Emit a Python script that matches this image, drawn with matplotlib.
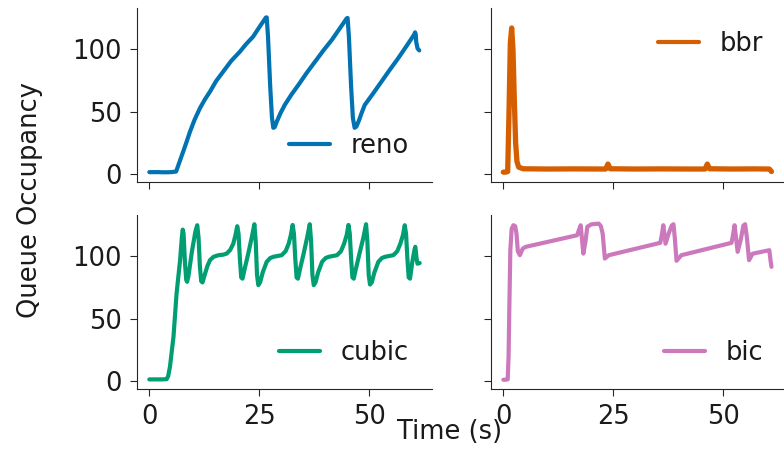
import matplotlib
matplotlib.use("Agg")
import matplotlib.pyplot as plt

# ---------------- data ----------------
reno_t = [0, 1, 2, 3, 4, 5, 6.1, 6.6, 7.2, 7.7, 8.5, 9.25, 10.3, 11.5, 12.6, 13.8, 15.2, 16.8,
          18.6, 20.6, 22.0, 23.6, 25.0, 26.5, 26.7, 27.0, 27.5, 27.9, 28.2, 28.5, 29.0, 29.8,
          30.8, 32.3, 33.9, 35.8, 37.7, 39.6, 41.5, 43.2, 44.9, 45.1, 45.4, 45.9, 46.3, 46.7,
          47.1, 47.7, 48.3, 49.0, 50.9, 52.8, 54.7, 56.6, 58.5, 60.2, 60.45, 60.6, 60.7, 61.0, 61.4]
reno_v = [1.5, 1.5, 1.5, 1.4, 1.4, 1.5, 2.0, 7.0, 13.0, 17.9, 26.0, 33.9, 43.5, 52.6, 59.5, 66.0, 74.5, 82.0,
          90.5, 98.0, 104.0, 110.0, 117.5, 125.3, 125.5, 110.0, 70.0, 45.0, 37.0, 37.5, 42.0, 48.5,
          55.3, 63.5, 71.3, 81.0, 90.0, 99.0, 107.4, 116.0, 124.7, 125.0, 110.0, 70.0, 45.0, 37.0,
          38.0, 43.0, 49.0, 55.3, 64.5, 74.0, 83.5, 92.7, 102.5, 111.5, 113.5, 112.0, 106.0, 100.7, 99.0]

bbr_t = [0, 0.5, 1.0, 1.3, 1.6, 1.9, 2.2, 2.5, 2.8, 3.1, 3.5, 4.5, 10, 16, 23.3, 23.8, 24.3,
         30, 36, 42, 45.9, 46.4, 46.9, 52, 57, 60.5, 61.0]
bbr_v = [1.5, 1.5, 2.0, 50, 105, 117, 100, 60, 25, 10, 5.5, 4.2, 4.0, 4.1, 4.0, 8.0, 4.2,
         4.0, 4.1, 4.0, 4.0, 8.0, 4.2, 4.0, 4.1, 4.0, 2.0]

cubic_t = [0, 1, 2, 3, 3.95, 4.3, 4.7, 5.5, 6.2, 7.0, 7.4, 7.6, 7.8, 8.1, 8.4, 8.6, 8.9, 9.7,
           10.5, 10.9, 11.2, 11.5, 11.8, 12.1, 12.6, 13.2, 13.8, 14.6, 15.7, 16.8, 17.6, 18.4,
           19.1, 19.6, 20.0, 20.3, 20.6, 20.9, 21.2, 21.7, 22.5, 23.3, 23.9, 24.2, 24.5, 24.8,
           25.2, 25.8, 26.7, 27.5, 28.2, 30.1, 31.0, 31.7, 32.2, 32.6,
           32.9, 33.2, 33.5, 33.8, 34.3, 35.1, 35.9, 36.5, 36.8, 37.1, 37.4, 37.8, 38.4, 39.3,
           40.1, 40.8, 42.7, 43.6, 44.3, 44.9, 45.3,
           45.6, 45.9, 46.2, 46.5, 47.0, 47.8, 48.7, 49.3, 49.6, 49.9, 50.2, 50.6, 51.2, 52.1,
           52.9, 53.6, 55.5, 56.4, 57.1, 57.7, 58.1,
           58.4, 58.7, 59.0, 59.3, 59.8, 60.3, 60.5, 60.8, 61.0, 61.5]
cubic_v = [1.3, 1.3, 1.3, 1.3, 1.5, 4.0, 11.5, 35.5, 70.1, 96.8, 115.0, 121.3, 118.0, 95.0, 81.0, 79.5, 84.0, 104.0,
           120.0, 124.8, 115.0, 92.0, 80.0, 79.0, 85.0, 92.0, 96.8, 99.5, 100.8, 101.2, 102.1, 105.0,
           110.0, 117.0, 124.0, 118.0, 98.0, 83.0, 82.0, 90.0, 102.0, 115.0, 125.6, 112.0, 85.0, 76.8,
           79.0, 87.0, 95.5, 98.5, 99.5, 100.8, 104.0, 110.0, 117.0, 125.0,
           118.0, 98.0, 83.0, 82.0, 90.0, 102.0, 115.0, 125.6, 112.0, 85.0, 76.8, 79.0, 87.0, 95.5,
           98.5, 99.5, 100.8, 104.0, 110.0, 117.0, 125.0,
           118.0, 98.0, 83.0, 82.0, 90.0, 102.0, 115.0, 125.6, 112.0, 85.0, 77.3, 79.0, 87.0, 95.5,
           98.5, 99.5, 100.8, 104.0, 110.0, 117.0, 124.8,
           118.0, 98.0, 83.0, 82.0, 95.0, 105.0, 107.5, 98.0, 94.0, 94.5]

bic_t = [0, 0.5, 1.0, 1.2, 1.36, 1.6, 1.9, 2.3, 2.7, 3.0, 3.3, 3.77, 4.4, 5.1, 16.8, 17.2, 17.6, 18.2,
         18.7, 19.1, 20.0, 21.7, 22.2, 22.6, 23.1, 24.0, 35.7, 36.0, 36.4, 36.9, 37.6, 38.3, 38.7,
         39.0, 39.4, 40.5, 51.9, 52.2, 52.6, 53.3, 54.0, 54.6, 55.0, 55.4, 55.9, 56.7, 60.5,
         60.8, 61.0]
bic_v = [1.0, 1.0, 1.3, 20, 56.8, 105, 122, 124.8, 124, 118, 104, 100.8, 106, 107.5, 116.8, 121, 124.8, 102.1,
         112, 123.5, 125.5, 126.1, 124, 118, 98.1, 100.8, 110.7, 116, 124.8, 110, 118, 124.5, 125.6,
         115, 96.3, 100.8, 110.7, 116, 124.8, 103.5, 113, 124.5, 125.6, 115, 96.8, 102.0, 104.8,
         96.0, 91.5]

names = ["reno", "bbr", "cubic", "bic"]
series_t = [reno_t, bbr_t, cubic_t, bic_t]
series_v = [reno_v, bbr_v, cubic_v, bic_v]
colors = ["#0173b2", "#d55e00", "#029e73", "#cc78bc"]
line_widths = [3, 3.8, 3, 3]
legend_locs = ["lower right", "upper right", "lower right", "lower right"]
x_ticks = [0, 25, 50]
y_ticks = [0, 50, 100]

# ---------------- figure ----------------
FS = 18.5
plt.rcParams.update({
    "font.family": ["DejaVu Sans"],
    "font.size": FS,
    "axes.edgecolor": "#262626",
    "xtick.color": "#262626",
    "ytick.color": "#262626",
    "text.color": "#1a1a1a",
    "axes.labelcolor": "#1a1a1a",
})

W, H = 784, 449
fig = plt.figure(figsize=(W / 100, H / 100), dpi=100)

def rect(x0, y0, x1, y1):
    return [x0 / W, 1 - y1 / H, (x1 - x0) / W, (y1 - y0) / H]

positions = [rect(137, 8, 432, 182), rect(491, 8, 786, 182),
             rect(137, 215, 432, 389), rect(491, 215, 786, 389)]

axes = []
for i, pos in enumerate(positions):
    kw = {}
    if i > 0:
        kw = dict(sharex=axes[0], sharey=axes[0])
    ax = fig.add_axes(pos, **kw)
    axes.append(ax)

for i, ax in enumerate(axes):
    ax.plot(series_t[i], series_v[i], color=colors[i], lw=line_widths[i], label=names[i],
            solid_joinstyle="round", solid_capstyle="round")
    ax.spines["top"].set_visible(False)
    ax.spines["right"].set_visible(False)
    ax.set_xticks(x_ticks)
    ax.set_yticks(y_ticks)
    ax.tick_params(labelsize=FS, length=5, pad=6, labelcolor="#1a1a1a")
    if i < 2:
        ax.tick_params(labelbottom=False)
    if i % 2 == 1:
        ax.tick_params(labelleft=False)
    leg = ax.legend(loc=legend_locs[i], frameon=False, fontsize=FS, handlelength=1.6)
    for line in leg.get_lines():
        line.set_linewidth(3)

axes[0].set_xlim(-2.8, 64.3)
axes[0].set_ylim(-6.4, 133)

fig.text(30 / W, 1 - 200 / H, "Queue Occupancy", rotation=90, ha="center", va="center", fontsize=FS)
fig.text(450 / W, 1 - 432 / H, "Time (s)", ha="center", va="center", fontsize=FS)

fig.savefig("out.png", dpi=100)
